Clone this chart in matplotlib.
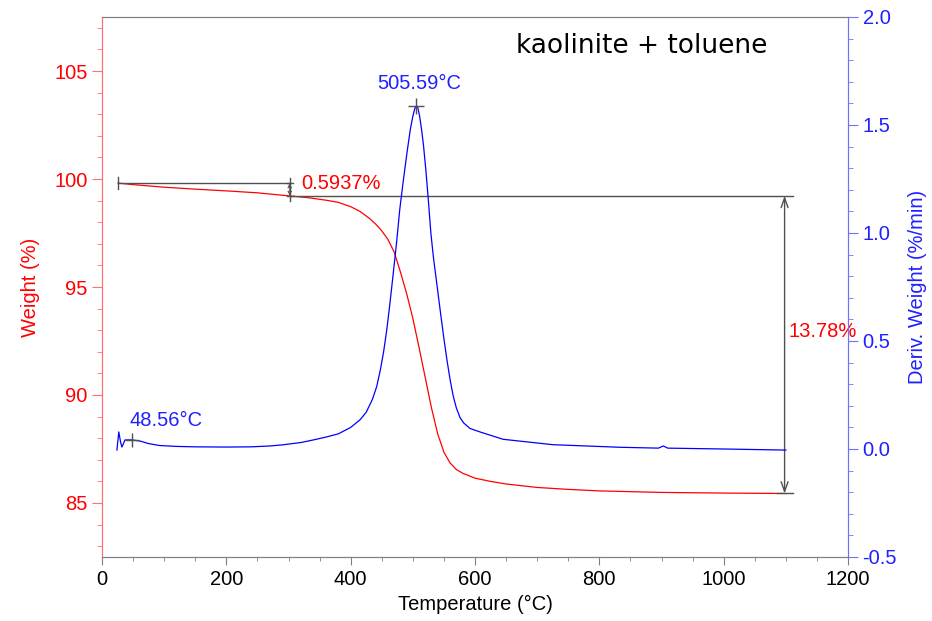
import matplotlib
matplotlib.use("Agg")
import matplotlib.pyplot as plt
from matplotlib.ticker import MultipleLocator, FormatStrFormatter

plt.rcParams['font.family'] = ['Liberation Sans', 'DejaVu Sans']

# ---- data ----
temp_w = [26, 50, 100, 150, 200, 250, 300, 330, 360, 380, 400, 415, 430, 440,
          450, 460, 470, 480, 490, 500, 510, 520, 530, 540, 550, 560, 570, 580,
          600, 625, 650, 700, 750, 800, 900, 1000, 1100]
weight = [99.81, 99.74, 99.62, 99.53, 99.45, 99.36, 99.22, 99.14, 99.02, 98.92,
          98.72, 98.50, 98.18, 97.92, 97.6, 97.2, 96.62, 95.7, 94.7, 93.55,
          92.2, 90.8, 89.4, 88.2, 87.35, 86.85, 86.55, 86.38, 86.15, 86.0,
          85.88, 85.72, 85.63, 85.56, 85.49, 85.46, 85.44]

temp_d = [24, 27, 30, 32, 37, 48.5, 61, 75, 93, 120, 150, 200, 240, 270, 290,
          320, 340, 360, 380, 400, 415, 425, 435, 442, 448, 453, 458, 463, 468,
          474, 479, 485, 491, 496, 500, 503, 505.6, 508, 511, 514, 517, 521,
          525, 529, 533, 537, 541, 545, 550, 555, 560, 565, 570, 576, 582, 592,
          608, 645, 725, 833, 895, 903, 910, 1000, 1100]
deriv = [-0.005, 0.079, 0.03, 0.009, 0.042, 0.042, 0.037, 0.025, 0.016, 0.012,
         0.01, 0.009, 0.01, 0.014, 0.019, 0.03, 0.042, 0.055, 0.07, 0.10,
         0.135, 0.17, 0.23, 0.29, 0.37, 0.45, 0.55, 0.67, 0.80, 0.96, 1.11,
         1.25, 1.38, 1.48, 1.54, 1.575, 1.588, 1.58, 1.54, 1.48, 1.41, 1.29,
         1.15, 1.00, 0.89, 0.80, 0.71, 0.62, 0.51, 0.41, 0.32, 0.245, 0.19,
         0.145, 0.12, 0.095, 0.079, 0.045, 0.02, 0.008, 0.004, 0.014, 0.004,
         0.0, -0.005]

peak_T, peak_D = 505.59, 1.588
low_T, low_D = 48.56, 0.042
w_start, w_300, w_end = 99.81, 99.22, 85.44
step_T, loss_T = 302, 1098
loss1_label = "0.5937%"
loss2_label = "13.78%"
title = "kaolinite + toluene"

RED = '#ff0000'
BLUE = '#0000ff'
LBLUE = '#2020ff'
GRAY = '#505050'
FS = 14.5

fig = plt.figure(figsize=(9.32, 6.21), dpi=100)
ax = fig.add_axes([102/932, 1-557/621, (848-102)/932, (557-17)/621])
ax2 = ax.twinx()

ax.plot(temp_w, weight, color=RED, lw=0.9)
ax2.plot(temp_d, deriv, color=BLUE, lw=0.9)

ax.set_xlim(0, 1200)
ax.set_ylim(82.5, 107.5)
ax2.set_ylim(-0.5, 2.0)

ax.xaxis.set_major_locator(MultipleLocator(200))
ax.xaxis.set_minor_locator(MultipleLocator(50))
ax.yaxis.set_major_locator(MultipleLocator(5))
ax.yaxis.set_minor_locator(MultipleLocator(1))
ax2.yaxis.set_major_locator(MultipleLocator(0.5))
ax2.yaxis.set_minor_locator(MultipleLocator(0.1))
ax2.yaxis.set_major_formatter(FormatStrFormatter('%.1f'))

for a in (ax, ax2):
    a.spines['top'].set_color('#808080')
    a.spines['bottom'].set_color('#808080')
    a.spines['left'].set_color('#ff7070')
    a.spines['right'].set_color('#7070ff')

ax.tick_params(axis='x', which='major', length=6, color='#808080', labelsize=FS, labelcolor='black', direction='out')
ax.tick_params(axis='x', which='minor', length=3, color='#808080', direction='out')
ax.tick_params(axis='y', which='major', length=7, color='#ff7070', labelsize=FS, labelcolor=RED, direction='out')
ax.tick_params(axis='y', which='minor', length=3.5, color='#ff7070', direction='out')
ax2.tick_params(axis='y', which='major', length=7, color='#7070ff', labelsize=FS, labelcolor=LBLUE, direction='out')
ax2.tick_params(axis='y', which='minor', length=3.5, color='#7070ff', direction='out')

ax.set_xlabel('Temperature (°C)', fontsize=FS, color='black', labelpad=4)
ax.set_ylabel('Weight (%)', fontsize=FS, color=RED, labelpad=10)
ax2.set_ylabel('Deriv. Weight (%/min)', fontsize=FS, color=LBLUE, labelpad=8)

# annotations (weight axis)
ax.plot([temp_w[0], step_T], [w_start, w_start], color=GRAY, lw=1)
ax.plot([temp_w[0], temp_w[0]], [w_start + 0.28, w_start - 0.28], color=GRAY, lw=1)
ax.plot([step_T - 5, step_T + 5], [w_start, w_start], color=GRAY, lw=1)
ax.plot([step_T - 5, step_T + 5], [w_300, w_300], color=GRAY, lw=1)
ax.plot([step_T, step_T], [w_start + 0.25, w_300 - 0.25], color=GRAY, lw=1)
ax.annotate('', xy=(step_T, w_start), xytext=(step_T, w_300),
            arrowprops=dict(arrowstyle='<->,head_length=0.25,head_width=0.12', color=GRAY, lw=0.8, shrinkA=0, shrinkB=0))
ax.plot([step_T, 1111], [w_300, w_300], color=GRAY, lw=1)
ax.plot([1086, 1111], [w_end, w_end], color=GRAY, lw=1)
ax.annotate('', xy=(loss_T, w_300), xytext=(loss_T, w_end),
            arrowprops=dict(arrowstyle='<->,head_length=0.7,head_width=0.25', color=GRAY, lw=1, shrinkA=0, shrinkB=0))
ax.text(320, w_start, loss1_label, color=RED, fontsize=FS, va='center', ha='left')
ax.text(1104, 92.96, loss2_label, color=RED, fontsize=FS, va='center', ha='left')
ax.text(0.724, 0.946, title, transform=ax.transAxes, fontsize=19, ha='center', va='center',
        color='black', family='DejaVu Sans')

# annotations (deriv axis)
ax2.plot([peak_T], [peak_D], marker='+', color=GRAY, ms=12, mew=1)
ax2.plot([low_T], [low_D], marker='+', color=GRAY, ms=10, mew=1)
ax2.text(511, 1.694, '505.59°C', color=LBLUE, fontsize=FS, va='center', ha='center')
ax2.text(45, 0.13, '48.56°C', color=LBLUE, fontsize=FS, va='center', ha='left')

fig.savefig('out.png', dpi=100)
